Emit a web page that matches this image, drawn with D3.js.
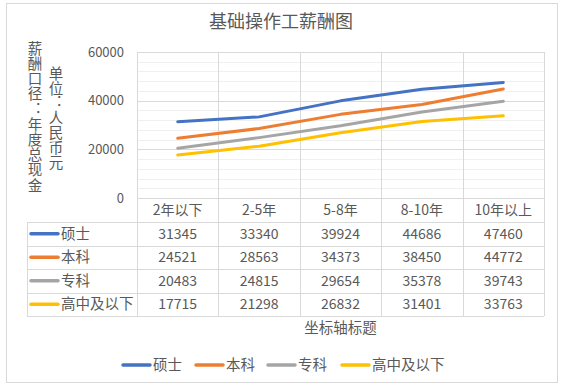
<!DOCTYPE html>
<html><head><meta charset="utf-8">
<script src="https://cdn.jsdelivr.net/npm/d3@7"></script>
<style>body{margin:0;background:#fff;} text{font-family:"Noto Sans CJK SC","Noto Sans",sans-serif;fill:#595959;}
.vt{writing-mode:vertical-rl;text-orientation:upright;font-feature-settings:"vert" 0, "vrt2" 0;}</style>
</head><body><svg id="c" width="566" height="390"></svg>
<script>
const categories = ["2年以下","2-5年","5-8年","8-10年","10年以上"];
const seriesNames = ["硕士","本科","专科","高中及以下"];
const master = [31345,33340,39924,44686,47460];
const bachelor = [24521,28563,34373,38450,44772];
const college = [20483,24815,29654,35378,39743];
const highschool = [17715,21298,26832,31401,33763];
const colors = ["#4472C4","#ED7D31","#A5A5A5","#FFC000"];
const yTicks = [0,20000,40000,60000];
const title = "基础操作工薪酬图";
const yTitle1 = "薪酬口径：年度总现金";
const yTitle2 = "单位：人民币元";
const xTitle = "坐标轴标题";

const series = [master,bachelor,college,highschool];
const svg = d3.select("#c");
const grid = "#d9d9d9";

// outer border
svg.append("rect").attr("x",6.5).attr("y",3.5).attr("width",551).attr("height",379)
  .attr("fill","#fff").attr("stroke",grid);

const L=137, R=544, T=52, B=198;
const x = d3.scaleBand().domain(categories).range([L,R]);
const y = d3.scaleLinear().domain([0,60000]).range([B,T]);

// minor gridlines
const minor = d3.range(0,60001,4000).filter(v=>v%20000!==0);
svg.append("g").selectAll("line").data(minor).join("line")
  .attr("x1",L).attr("x2",R).attr("y1",d=>Math.round(y(d))+0.5).attr("y2",d=>Math.round(y(d))+0.5)
  .attr("stroke","#f0f0f0");
// major gridlines
svg.append("g").selectAll("line").data(yTicks).join("line")
  .attr("x1",L).attr("x2",R).attr("y1",d=>Math.round(y(d))+0.5).attr("y2",d=>Math.round(y(d))+0.5)
  .attr("stroke",grid);

// table geometry
const rowH = (316-222)/4;
const tTop = 222, tBot = 316, tLeft = 27;
const bounds = categories.map(c=>x(c)).concat([R]);
svg.append("g").selectAll("line").data(bounds).join("line")
  .attr("x1",d=>Math.round(d)+0.5).attr("x2",d=>Math.round(d)+0.5)
  .attr("y1",T).attr("y2",tBot).attr("stroke",grid);
svg.append("line").attr("x1",tLeft+0.5).attr("x2",tLeft+0.5).attr("y1",tTop).attr("y2",tBot).attr("stroke",grid);
const hl = d3.range(5).map(i=>tTop+i*rowH);
svg.append("g").selectAll("line").data(hl).join("line")
  .attr("x1",tLeft).attr("x2",R).attr("y1",d=>Math.round(d)+0.5).attr("y2",d=>Math.round(d)+0.5)
  .attr("stroke",grid);

// y tick labels
svg.append("g").selectAll("text").data(yTicks).join("text")
  .attr("x",124).attr("y",d=>y(d)).attr("dy","0.35em").attr("text-anchor","end")
  .attr("font-size",13).text(d=>d);

// category labels (header row)
svg.append("g").selectAll("text").data(categories).join("text")
  .attr("x",d=>x(d)+x.bandwidth()/2).attr("y",(B+tTop)/2).attr("dy","0.35em")
  .attr("text-anchor","middle").attr("font-size",14).text(d=>d);

// lines
const line = d3.line().x((d,i)=>x(categories[i])+x.bandwidth()/2).y(d=>y(d));
series.forEach((s,k)=>{
  svg.append("path").datum(s).attr("d",line).attr("fill","none")
    .attr("stroke",colors[k]).attr("stroke-width",3).attr("stroke-linejoin","round").attr("stroke-linecap","round");
});

// table rows
series.forEach((s,k)=>{
  const cy = tTop + rowH*k + rowH/2;
  svg.append("line").attr("x1",31).attr("x2",58).attr("y1",cy).attr("y2",cy)
    .attr("stroke",colors[k]).attr("stroke-width",3.5).attr("stroke-linecap","round");
  svg.append("text").attr("x",61).attr("y",cy).attr("dy","0.35em").attr("font-size",14.5).text(seriesNames[k]);
  svg.append("g").selectAll("text").data(s).join("text")
    .attr("x",(d,i)=>x(categories[i])+x.bandwidth()/2).attr("y",cy).attr("dy","0.35em")
    .attr("text-anchor","middle").attr("font-size",14).text(d=>d);
});

// title
svg.append("text").attr("x",281).attr("y",22).attr("dy","0.35em").attr("text-anchor","middle")
  .attr("font-size",18).text(title);
// x axis title
svg.append("text").attr("x",(L+R)/2).attr("y",328).attr("dy","0.35em").attr("text-anchor","middle")
  .attr("font-size",14.5).text(xTitle);

// vertical y titles (upright vertical writing)
svg.append("text").attr("class","vt").attr("x",35).attr("y",41).attr("font-size",14.5)
  .attr("letter-spacing",0.7).text(yTitle1);
svg.append("text").attr("class","vt").attr("x",56).attr("y",66).attr("font-size",14.5)
  .attr("letter-spacing",0.3).text(yTitle2);

// bottom legend
const legX = [123,196,268,342];
seriesNames.forEach((n,k)=>{
  svg.append("line").attr("x1",legX[k]).attr("x2",legX[k]+27).attr("y1",365).attr("y2",365)
    .attr("stroke",colors[k]).attr("stroke-width",3.5).attr("stroke-linecap","round");
  svg.append("text").attr("x",legX[k]+30).attr("y",365).attr("dy","0.35em").attr("font-size",14.5).text(n);
});
</script></body></html>
